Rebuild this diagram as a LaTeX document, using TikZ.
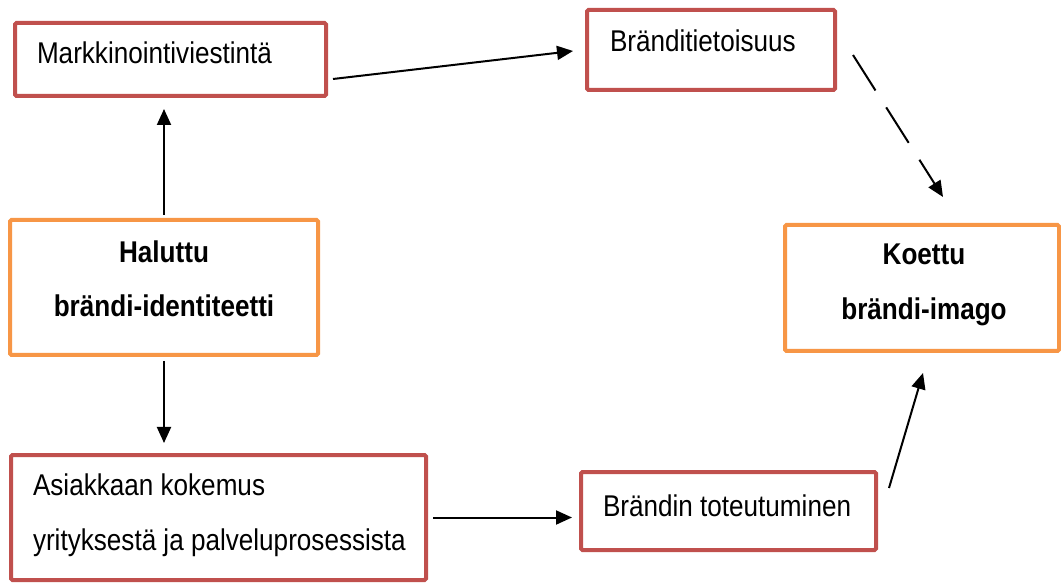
\documentclass[tikz,border=0pt]{standalone}
\usepackage{fontspec}
\setmainfont{Liberation Sans}[FakeStretch=0.87]
\usetikzlibrary{arrows.meta,calc}
\definecolor{boxred}{HTML}{C0504D}
\definecolor{boxorange}{HTML}{F79646}
\tikzset{
  redbox/.style={draw=boxred, line width=4pt, rounded corners=1.5pt, inner sep=0pt, outer sep=0pt, fill=white},
  orangebox/.style={draw=boxorange, line width=4pt, rounded corners=1.5pt, inner sep=0pt, outer sep=0pt, fill=white},
  txt/.style={inner sep=0pt, outer sep=0pt, font=\fontsize{30}{36}\selectfont},
  btxt/.style={txt, font=\fontsize{30}{36}\selectfont\bfseries, anchor=base},
  arr/.style={line width=2pt, -{Triangle[length=16pt,width=14pt]}},
}
\begin{document}
\begin{tikzpicture}[x=1pt,y=-1pt]
\useasboundingbox (0,0) rectangle (1061,585);
% boxes
\node[redbox, minimum width=311pt, minimum height=73pt] (mk) at (170.5,59.5) {};
\node[redbox, minimum width=248pt, minimum height=80pt] (bt) at (711,50) {};
\node[orangebox, minimum width=308pt, minimum height=135pt] (hal) at (164,287.5) {};
\node[orangebox, minimum width=274pt, minimum height=126pt] (ko) at (922,288) {};
\node[redbox, minimum width=415pt, minimum height=125pt] (as) at (218.5,517.5) {};
\node[redbox, minimum width=295pt, minimum height=78pt] (bto) at (728.5,511) {};
% texts
\node[txt, anchor=base west] (mkt) at (37,64) {Markkinointiviestintä};
\node[txt, anchor=base west] (btt) at (610,52) {Bränditietoisuus};
\node[btxt] (hal1) at (164,263) {Haluttu};
\node[btxt] (hal2) at (164,317) {brändi-identiteetti};
\node[btxt] (ko1) at (924,265) {Koettu};
\node[btxt] (ko2) at (924,320) {brändi-imago};
\node[txt, anchor=base west] (as1) at (33,495) {Asiakkaan kokemus};
\node[txt, anchor=base west] (as2) at (33,550) {yrityksestä ja palveluprosessista};
\node[txt, anchor=base west] (btot) at (603,516) {Brändin toteutuminen};
% connectors
\draw[arr] ([shift={(7,19.5)}]mk.east) -- ([shift={(-14,1)}]bt.west);
\draw[arr, shorten <=5pt, shorten >=13pt] (hal.north) -- (hal.north |- mk.south);
\draw[arr, shorten <=6pt, shorten >=12pt] (hal.south) -- (hal.south |- as.north);
\draw[arr, shorten >=9pt] ([xshift=7pt]as.east) -- (as.east -| bto.west);
\draw[arr] ([shift={(13,-23)}]bto.east) -- ([shift={(1,22)}]ko.south);
\draw[arr, dash pattern=on 42pt off 20pt] ([shift={(18,5)}]bt.east) -- ([shift={(21,-28)}]ko.north);
\end{tikzpicture}
\end{document}
